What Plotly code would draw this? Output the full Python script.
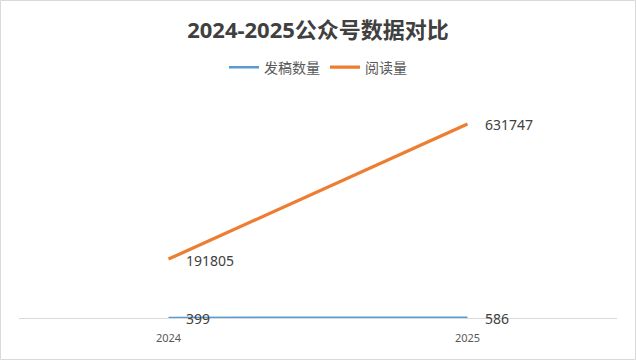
import plotly.graph_objects as go

years = ["2024", "2025"]
posts = [399, 586]
reads = [191805, 631747]
series_names = ["发稿数量", "阅读量"]
title_text = "2024-2025公众号数据对比"

FONT = "Noto Sans, Noto Sans CJK SC, sans-serif"
colors = ["#5B9BD5", "#ED7D31"]
widths = [2.5, 3.25]

fig = go.Figure()
for name, vals, c, w in zip(series_names, [posts, reads], colors, widths):
    fig.add_trace(go.Scatter(
        x=years, y=vals, mode="lines", name=name,
        line=dict(color=c, width=w, shape="linear"),
        hoverinfo="skip",
    ))

annotations = []
for vals in [posts, reads]:
    for i, yv in enumerate(vals):
        annotations.append(dict(
            x=i, y=yv, xref="x", yref="y", text=str(yv),
            showarrow=False, xanchor="left", yanchor="middle",
            xshift=15, yshift=-1,
            font=dict(family=FONT, size=14, color="#404040"),
        ))

fig.update_layout(
    width=636, height=361,
    margin=dict(l=19, r=19, t=103, b=43),
    paper_bgcolor="white", plot_bgcolor="white",
    title=dict(text="<b>" + title_text + "</b>", x=0.5, xanchor="center",
               y=1 - 30 / 361, yanchor="middle",
               font=dict(family=FONT, size=22, color="#404040")),
    legend=dict(orientation="h", x=0.5, xanchor="center", y=1.165, yanchor="middle",
                font=dict(family=FONT, size=14, color="#595959"),
                itemwidth=30, tracegroupgap=0, bgcolor="rgba(0,0,0,0)"),
    showlegend=True,
    annotations=annotations,
    shapes=[dict(type="rect", xref="paper", yref="paper",
                 x0=-19 / 598 + 0.5 / 598, x1=1 + 18.5 / 598,
                 y0=-43 / 215 + 1.5 / 215, y1=1 + 102.5 / 215,
                 line=dict(color="#D9D9D9", width=1), fillcolor="rgba(0,0,0,0)", layer="below")],
)
fig.update_xaxes(type="category", range=[-0.5, 1.5], showgrid=False, zeroline=False,
                 showline=True, linecolor="#D9D9D9", linewidth=1, layer="below traces",
                 ticks="", ticklabelstandoff=10,
                 tickfont=dict(family=FONT, size=11, color="#595959"))
fig.update_yaxes(range=[0, 700000], visible=False, showgrid=False, zeroline=False)

fig.write_html("out.html", config={"displayModeBar": False},
               post_script="document.body.style.margin='0px';")
